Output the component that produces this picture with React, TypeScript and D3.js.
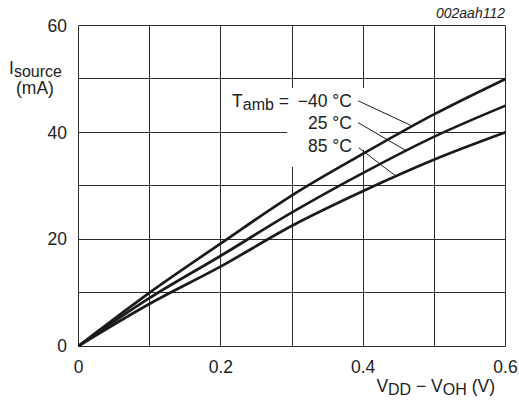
import React, { useEffect, useRef } from "react";
import * as d3 from "d3";

// V_DD - V_OH (V)
const vDrop = [0, 0.1, 0.2, 0.3, 0.4, 0.5, 0.6];
// I_source (mA) per ambient temperature
const iMinus40 = [0, 10.0, 19.2, 28.2, 36.0, 43.4, 50.0];
const i25 = [0, 9.0, 16.9, 25.0, 32.4, 39.2, 45.0];
const i85 = [0, 7.9, 14.9, 22.5, 29.0, 34.9, 40.0];

const series = [iMinus40, i25, i85];
const tempLabels = ["\u221240 \u00b0C", "25 \u00b0C", "85 \u00b0C"];
// leader lines: [x0, y0, x1, y1] in data units
const leaders = [
    [0.393, 45.9, 0.467, 41.3],
    [0.393, 41.8, 0.46, 36.6],
    [0.394, 37.1, 0.446, 31.8]
];

const xTicks = [0, 0.1, 0.2, 0.3, 0.4, 0.5, 0.6];
const xLabels = [0, 0.2, 0.4, 0.6];
const yTicks = [0, 10, 20, 30, 40, 50, 60];
const yLabels = [0, 20, 40, 60];

const FONT = "'Liberation Sans', Arial, sans-serif";

export default function App() {
    const ref = useRef<SVGSVGElement>(null);

    useEffect(() => {
        const svg = d3.select(ref.current);
        svg.selectAll("*").remove();

        const x = d3.scaleLinear().domain([0, 0.6]).range([78.5, 505.5]);
        const y = d3.scaleLinear().domain([0, 60]).range([346, 25.5]);
        const fmt = d3.format(".1f");
        // snap grid lines to pixel centres so they stay 1px wide
        const px = (v: number) => Math.floor(v) + 0.5;

        const grid = svg.append("g");
        grid.selectAll(".vx")
            .data(xTicks)
            .enter()
            .append("line")
            .attr("x1", d => px(x(d)))
            .attr("x2", d => px(x(d)))
            .attr("y1", px(y(0)))
            .attr("y2", px(y(60)))
            .attr("stroke", "#2a2a2a")
            .attr("stroke-width", 1);
        grid.selectAll(".hy")
            .data(yTicks)
            .enter()
            .append("line")
            .attr("x1", px(x(0)))
            .attr("x2", px(x(0.6)))
            .attr("y1", d => px(y(d)))
            .attr("y2", d => px(y(d)))
            .attr("stroke", "#2a2a2a")
            .attr("stroke-width", 1);

        // white patch behind the temperature labels
        svg.append("rect")
            .attr("x", 287).attr("y", 88).attr("width", 93).attr("height", 62)
            .attr("fill", "#fff");
        svg.append("rect")
            .attr("x", 287).attr("y", 150).attr("width", 70).attr("height", 17)
            .attr("fill", "#fff");

        const line = d3.line<number>()
            .x((_, i) => x(vDrop[i]))
            .y(d => y(d))
            .curve(d3.curveMonotoneX);

        svg.selectAll(".curve")
            .data(series)
            .enter()
            .append("path")
            .attr("d", d => line(d))
            .attr("fill", "none")
            .attr("stroke", "#1a1a1a")
            .attr("stroke-width", 2.7);

        svg.selectAll(".leader")
            .data(leaders)
            .enter()
            .append("line")
            .attr("x1", d => x(d[0]))
            .attr("y1", d => y(d[1]))
            .attr("x2", d => x(d[2]))
            .attr("y2", d => y(d[3]))
            .attr("stroke", "#1a1a1a")
            .attr("stroke-width", 1);

        const baselines = [106.5, 129, 151.5];
        tempLabels.forEach((t, i) => {
            svg.append("text")
                .attr("x", 352)
                .attr("y", baselines[i])
                .attr("text-anchor", "end")
                .attr("font-family", FONT)
                .attr("font-size", 17.5)
                .attr("fill", "#222")
                .text(t);
        });
        const tamb = svg.append("text")
            .attr("x", 289)
            .attr("y", baselines[0])
            .attr("text-anchor", "end")
            .attr("font-family", FONT)
            .attr("font-size", 17.5)
            .attr("fill", "#222");
        tamb.append("tspan").text("T");
        tamb.append("tspan").attr("font-size", 16).attr("dy", 3).text("amb");
        tamb.append("tspan").attr("dy", -3).text(" =");

        svg.selectAll(".xl")
            .data(xLabels)
            .enter()
            .append("text")
            .attr("x", d => x(d))
            .attr("y", 372.5)
            .attr("text-anchor", "middle")
            .attr("font-family", FONT)
            .attr("font-size", 17.5)
            .attr("fill", "#222")
            .text(d => (d === 0 ? "0" : fmt(d)));

        svg.selectAll(".yl")
            .data(yLabels)
            .enter()
            .append("text")
            .attr("x", 67)
            .attr("y", d => y(d) + 6.3)
            .attr("text-anchor", "end")
            .attr("font-family", FONT)
            .attr("font-size", 17.5)
            .attr("fill", "#222")
            .text(d => d);

        const yTitle = svg.append("text")
            .attr("x", 9)
            .attr("y", 74)
            .attr("font-family", FONT)
            .attr("font-size", 17.5)
            .attr("fill", "#222");
        yTitle.append("tspan").text("I");
        yTitle.append("tspan").attr("font-size", 16).attr("dy", 2.5).text("source");
        svg.append("text")
            .attr("x", 35)
            .attr("y", 94)
            .attr("text-anchor", "middle")
            .attr("font-family", FONT)
            .attr("font-size", 17.5)
            .attr("fill", "#222")
            .text("(mA)");

        const xTitle = svg.append("text")
            .attr("x", 495)
            .attr("y", 391.5)
            .attr("text-anchor", "end")
            .attr("font-family", FONT)
            .attr("font-size", 17.5)
            .attr("fill", "#222");
        xTitle.append("tspan").text("V");
        xTitle.append("tspan").attr("font-size", 16).attr("dy", 3).text("DD");
        xTitle.append("tspan").attr("dy", -3).text(" \u2212 V");
        xTitle.append("tspan").attr("font-size", 16).attr("dy", 3).text("OH");
        xTitle.append("tspan").attr("dy", -3).text(" (V)");

        svg.append("text")
            .attr("x", 505)
            .attr("y", 18)
            .attr("text-anchor", "end")
            .attr("font-family", FONT)
            .attr("font-size", 14)
            .attr("font-style", "italic")
            .attr("fill", "#222")
            .text("002aah112");
    }, []);

    return (
        <svg
            ref={ref}
            width={519}
            height={401}
            style={{ position: "fixed", left: 0, top: 0, background: "#fff" }}
        />
    );
}
